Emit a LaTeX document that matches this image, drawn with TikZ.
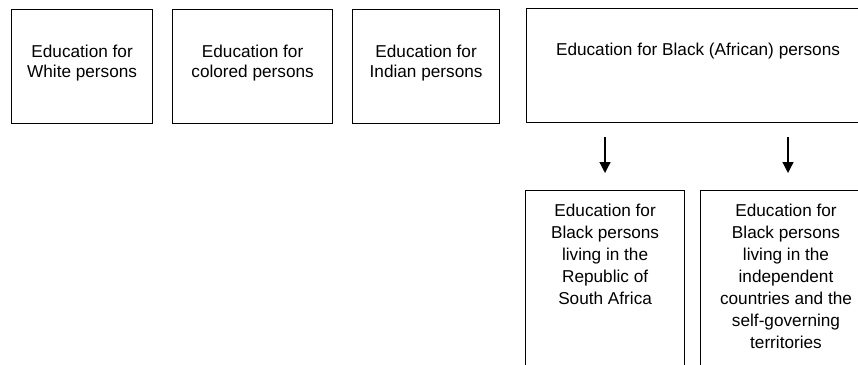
\documentclass[tikz,border=0pt]{standalone}
\usepackage{fontspec}
\setmainfont{Liberation Sans}
\usetikzlibrary{arrows.meta}
\begin{document}
\begin{tikzpicture}[x=1pt,y=-1pt,
  box/.style={draw=black, line width=1.2pt, inner sep=0pt, anchor=north west},
  txt/.style={font=\fontsize{17.2}{20}\selectfont, align=center, inner sep=0pt, anchor=north},
  txtlow/.style={txt, font=\fontsize{17.2}{22}\selectfont},
  arr/.style={-{Triangle[width=11pt,length=11pt]}, line width=1.3pt}]
\useasboundingbox (0,0) rectangle (858,364);
\clip (0,0) rectangle (858,364);
% top row boxes
\node[box, minimum width=141, minimum height=114] (bw) at (11,9) {};
\node[box, minimum width=160, minimum height=114] (bc) at (172,9) {};
\node[box, minimum width=147, minimum height=114] (bi) at (352,9) {};
\node[box, minimum width=344, minimum height=114] (bb) at (526,8) {};
% bottom row boxes
\node[box, minimum width=159, minimum height=200] (bs) at (525,190) {};
\node[box, minimum width=176, minimum height=200] (bh) at (700,190) {};
% texts
\node[txt] (tw) at (bw.north |- 0,44.4) {Education for\\White persons};
\node[txt] (tc) at (bc.north |- 0,44.4) {Education for\\colored persons};
\node[txt] (ti) at (bi.north |- 0,44.4) {Education for\\Indian persons};
\node[txt, anchor=base] (tb) at (698,55) {Education for Black (African) persons};
\node[txtlow] (ts) at (bs.north |- 0,203.4) {Education for\\Black persons\\living in the\\Republic of\\South Africa};
\node[txtlow] (th) at (786,203.4) {Education for\\Black persons\\living in the\\independent\\countries and the\\self-governing\\territories};
% arrows
\coordinate (a1s) at (605,137);
\coordinate (a1e) at (605,173);
\coordinate (a2s) at (788,137);
\coordinate (a2e) at (788,173);
\draw[arr] (a1s) -- (a1e);
\draw[arr] (a2s) -- (a2e);
\end{tikzpicture}
\end{document}
